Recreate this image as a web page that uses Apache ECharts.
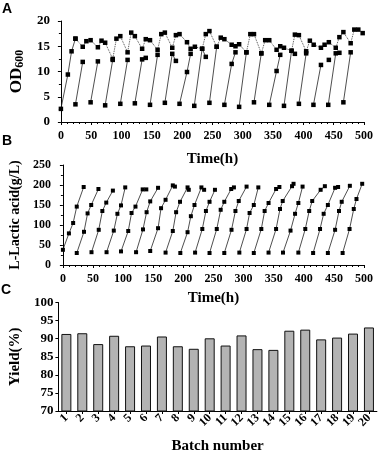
<!DOCTYPE html>
<html>
<head>
<meta charset="utf-8">
<script src="https://cdn.jsdelivr.net/npm/echarts@6/dist/echarts.min.js"></script>
<style>
html,body{margin:0;padding:0;background:#fff;}
#c{width:380px;height:455px;}
</style>
</head>
<body>
<div id="c"></div>
<script>
// ---------- Panel A: OD600 ----------
const timeTicks = [0, 50, 100, 150, 200, 250, 300, 350, 400, 450, 500];
const odTicks = [0, 5, 10, 15, 20];
// each batch: rising trajectory [time(h), OD600]
const odBatches = [
  [[0,2.6],[11.5,9.4],[17.6,14.0],[24,16.5]],
  [[24,3.5],[36,11.9]],
  [[49,3.9],[61,12.0]],
  [[73,3.3],[85.5,12.3]],
  [[98,3.6],[110,12.3]],
  [[122,3.7],[134,12.4],[140,12.7]],
  [[147,3.4],[159.5,13.3]],
  [[171.5,3.8],[183.7,13.5],[189.7,12.1]],
  [[195.7,3.6],[208,9.9],[214,13.5]],
  [[220,3.2],[233,14.5],[239,12.9]],
  [[245,3.8],[257,14.9]],
  [[269.7,3.4],[281.7,11.5],[288,13.8]],
  [[294,3.0],[306,13.8]],
  [[318.5,3.9],[330.6,13.6]],
  [[343.7,3.4],[355.8,10.1],[361.8,13.3]],
  [[368,3.2],[380.5,14.1],[386,13.5]],
  [[392.6,3.6],[404.6,13.6]],
  [[416.6,3.4],[429,11.3]],
  [[441,3.4],[453.4,13.6],[459.4,13.7]],
  [[466,3.9],[478,13.8]]
];
// upper (connecting) trace
const odTopLine = [
  [24,16.5],[36,14.9],[42,16.0],[49,16.2],[61,14.8],[67,16.1],[73,15.7],[85.5,12.5],[91.6,16.5],[98,17.0],
  [110,13.8],[116,17.7],[122,17.0],[134,14.5],[140,16.4],[147,16.2],[159.5,14.3],[165.6,17.4],[171.5,17.7],
  [183.7,14.7],[189.7,17.2],[195.7,17.4],[208,15.8],[214,14.5],[221,14.9],[233,14.5],[239,17.4],[245,18.0],
  [257,14.9],[263.7,16.7],[269.7,16.4],[281.7,15.3],[288,15.0],[294,15.4],[306,13.8],[312.5,17.4],[318.5,17.4],
  [330.6,13.6],[337,16.2],[343.7,16.2],[355.8,14.3],[361.8,15.0],[368,14.7],[380.5,14.1],[386,17.3],[392.6,17.2],
  [404.6,14.0],[410.7,16.1],[417,15.3],[429,14.7],[435,15.3],[442,15.8],[453.4,14.7],[459.4,16.8],[466,17.8],
  [478,15.6],[484,18.3],[490.6,18.3],[497.8,17.6]
];
const odLoose = [[442,12.3]];

// ---------- Panel B: L-Lactic acid ----------
const lacticTicks = [0, 50, 100, 150, 200, 250];
const lacticBatches = [
  [[0,38],[10,79],[17,105],[23,146],[34.5,195]],
  [[23,30],[35,83],[41,129],[47,150],[59,190]],
  [[47.5,32],[59.5,88],[65.5,135],[72,156],[83,186]],
  [[72.5,32],[84.5,86],[90.5,128],[96.5,149],[103.5,194]],
  [[96.5,34],[108.5,85],[114,130],[120.5,146],[132.5,189],[138.5,189]],
  [[121.5,32],[133,89],[139,132],[145,159],[158,193]],
  [[145,35],[158,92],[163,142],[170.5,163],[182.5,199],[186,196]],
  [[170.5,31],[182.5,85],[188,132],[194.5,158],[207,194],[209,188]],
  [[195,30],[207,82],[212.5,122],[218.5,150],[230,194],[234.5,188]],
  [[219.5,31],[231.5,90],[237.5,135],[243.5,158],[252.5,188]],
  [[243.5,30],[255.5,90],[262,138],[268,158],[279.5,190],[284,194]],
  [[268,30],[280,88],[286.5,135],[292,160],[305,196]],
  [[293,31],[305,90],[310,130],[317,150],[324.5,194]],
  [[317,30],[329.5,90],[335,135],[341.5,155],[354,190],[359.5,195]],
  [[341.5,31],[354,90],[360.5,140],[365,160],[380.5,197],[383,203]],
  [[365.5,31],[378,86],[385.5,128],[391,155],[398,196]],
  [[391,31],[402.5,90],[409,135],[414,160],[428,188],[435,197]],
  [[415.5,30],[427,90],[433,128],[440,150],[452,193],[457,195]],
  [[440,30],[452,88],[458.5,135],[463,158],[476.5,198]],
  [[464.5,30],[476,90],[483,140],[487.5,165],[497,203]]
];

// ---------- Panel C: Yield ----------
const batchLabels = ['1','2','3','4','5','6','7','8','9','10','11','12','13','14','15','16','17','18','19','20'];
const yieldValues = [91.3,91.5,88.5,90.8,87.9,88.1,90.6,87.9,87.2,90.1,88.1,90.9,87.1,86.9,92.2,92.5,89.8,90.3,91.4,93.1];
const yieldTicks = [70, 75, 80, 85, 90, 95, 100];

const SERIF = '"Liberation Serif","Times New Roman",serif';
const lblStyle = {fontFamily: SERIF, fontWeight: 'bold', fontSize: 12, color: '#000'};
const nameStyle = {fontFamily: SERIF, fontWeight: 'bold', fontSize: 15, color: '#000'};
const axLine = {show: true, lineStyle: {color: '#000', width: 1}};

function showIf(ticks) {
  return function (v) { return ticks.indexOf(v) >= 0 ? String(v) : ''; };
}

const series = [];
odBatches.forEach(function (b) {
  series.push({type: 'line', xAxisIndex: 0, yAxisIndex: 0, data: b, symbol: 'rect', symbolSize: 4.5,
    lineStyle: {color: '#222', width: 0.8}, itemStyle: {color: '#000'}, clip: false, silent: true});
});
series.push({type: 'line', xAxisIndex: 0, yAxisIndex: 0, data: odTopLine, symbol: 'rect', symbolSize: 4.5,
  lineStyle: {color: '#333', width: 0.9, type: 'dotted'}, itemStyle: {color: '#000'}, clip: false, silent: true});
series.push({type: 'scatter', xAxisIndex: 0, yAxisIndex: 0, data: odLoose, symbol: 'rect', symbolSize: 4.5,
  itemStyle: {color: '#000', opacity: 1}, silent: true});
lacticBatches.forEach(function (b) {
  series.push({type: 'line', xAxisIndex: 1, yAxisIndex: 1, data: b, symbol: 'rect', symbolSize: 4,
    lineStyle: {color: '#222', width: 0.8}, itemStyle: {color: '#000'}, clip: false, silent: true});
});
series.push({type: 'bar', xAxisIndex: 2, yAxisIndex: 2, data: yieldValues, barWidth: 10,
  itemStyle: {color: '#b3b3b3', borderColor: '#111', borderWidth: 1}, silent: true});

function timeAxis(gridIndex, gap) {
  return {
    type: 'value', gridIndex: gridIndex, min: 0, max: 500, interval: 50, offset: 3,
    axisLine: axLine,
    axisTick: {show: true, length: 3, lineStyle: {color: '#000'}},
    minorTick: {show: true, splitNumber: 5, length: 2, lineStyle: {color: '#000'}},
    splitLine: {show: false}, minorSplitLine: {show: false},
    axisLabel: Object.assign({margin: 5, formatter: showIf(timeTicks)}, lblStyle),
    name: 'Time(h)', nameLocation: 'middle', nameGap: gap, nameTextStyle: nameStyle
  };
}

const option = {
  animation: false,
  backgroundColor: '#fff',
  grid: [
    {left: 58, right: 16, top: 21, height: 101},
    {left: 57.3, right: 16, top: 165, height: 100},
    {left: 49.2, right: 3.1, top: 302.5, height: 108.5}
  ],
  xAxis: [
    timeAxis(0, 27),
    timeAxis(1, 23),
    {
      type: 'category', gridIndex: 2, data: batchLabels, boundaryGap: true,
      axisLine: axLine,
      axisTick: {show: true, alignWithLabel: true, length: 3, lineStyle: {color: '#000'}},
      axisLabel: Object.assign({rotate: 45, interval: 0, margin: 5}, lblStyle),
      name: 'Batch number', nameLocation: 'middle', nameGap: 28, nameTextStyle: nameStyle
    }
  ],
  yAxis: [
    {
      type: 'value', gridIndex: 0, min: 0, max: 20, interval: 5, offset: 6,
      axisLine: axLine,
      axisTick: {show: true, length: 3, lineStyle: {color: '#000'}},
      minorTick: {show: true, splitNumber: 2, length: 2, lineStyle: {color: '#000'}},
      splitLine: {show: false}, minorSplitLine: {show: false},
      axisLabel: Object.assign({margin: 5, formatter: showIf(odTicks)}, lblStyle, {fontSize: 13}),
      name: '{a|OD}{b|600}', nameLocation: 'middle', nameRotate: 90, nameGap: 21,
      nameTextStyle: {
        fontFamily: SERIF, fontWeight: 'bold', color: '#000',
        rich: {
          a: {fontFamily: SERIF, fontWeight: 'bold', fontSize: 17, lineHeight: 19, color: '#000'},
          b: {fontFamily: SERIF, fontWeight: 'bold', fontSize: 12, lineHeight: 12, verticalAlign: 'bottom', color: '#000'}
        }
      }
    },
    {
      type: 'value', gridIndex: 1, min: 0, max: 250, interval: 50, offset: 7,
      axisLine: axLine,
      axisTick: {show: true, length: 3, lineStyle: {color: '#000'}},
      minorTick: {show: true, splitNumber: 2, length: 2, lineStyle: {color: '#000'}},
      splitLine: {show: false}, minorSplitLine: {show: false},
      axisLabel: Object.assign({margin: 5, formatter: showIf(lacticTicks)}, lblStyle),
      name: 'L-Lactic acid(g/L)', nameLocation: 'middle', nameRotate: 90, nameGap: 27,
      nameTextStyle: Object.assign({}, nameStyle, {fontSize: 14})
    },
    {
      type: 'value', gridIndex: 2, min: 70, max: 100, interval: 5,
      axisLine: axLine,
      axisTick: {show: true, length: 3, lineStyle: {color: '#000'}},
      splitLine: {show: false},
      axisLabel: Object.assign({margin: 5, formatter: showIf(yieldTicks)}, lblStyle, {fontSize: 13}),
      name: 'Yield(%)', nameLocation: 'middle', nameRotate: 90, nameGap: 26,
      nameTextStyle: nameStyle
    }
  ],
  graphic: [
    {type: 'text', left: 2, top: 2, style: {text: 'A', font: 'bold 14px "Liberation Sans", Arial, sans-serif', fill: '#000'}},
    {type: 'text', left: 2, top: 134, style: {text: 'B', font: 'bold 14px "Liberation Sans", Arial, sans-serif', fill: '#000'}},
    {type: 'text', left: 1, top: 283, style: {text: 'C', font: 'bold 14px "Liberation Sans", Arial, sans-serif', fill: '#000'}}
  ],
  series: series
};

const chart = echarts.init(document.getElementById('c'), null, {renderer: 'canvas'});
chart.setOption(option);
</script>
</body>
</html>
